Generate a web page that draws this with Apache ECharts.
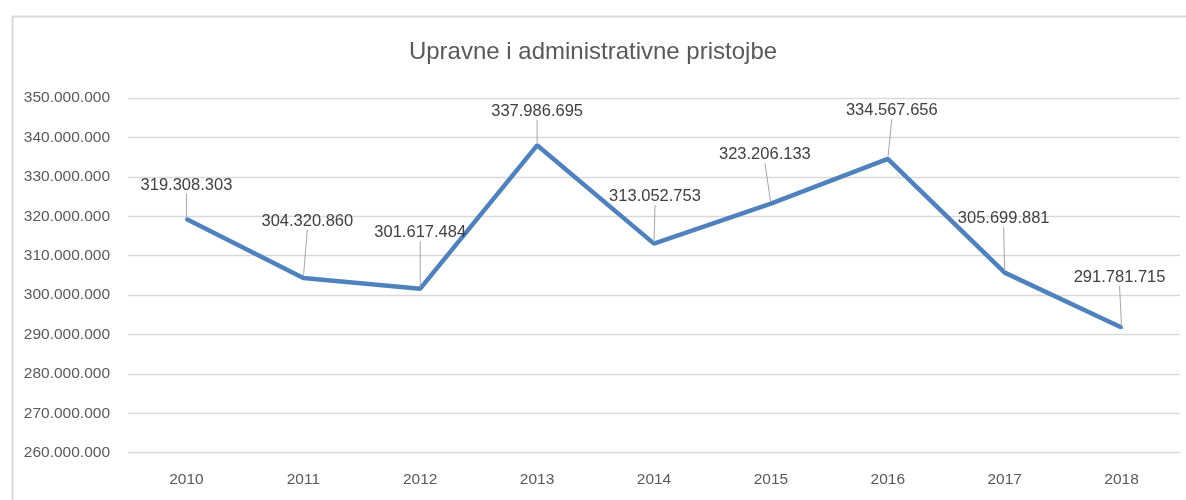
<!DOCTYPE html>
<html>
<head>
<meta charset="utf-8">
<script src="https://cdn.jsdelivr.net/npm/echarts@6/dist/echarts.min.js"></script>
<style>
html,body{margin:0;padding:0;background:#fff;}
#chart{width:1186px;height:500px;}
</style>
</head>
<body>
<div id="chart"></div>
<script>
var titleText = 'Upravne i administrativne pristojbe';
var years = ['2010','2011','2012','2013','2014','2015','2016','2017','2018'];
var values = [319308303, 304320860, 301617484, 337986695, 313052753, 323206133, 334567656, 305699881, 291781715];
var yMin = 260000000, yMax = 350000000, yStep = 10000000;
// label offsets (pixels) relative to each point
var labelDx = [0, 4, 0, 0, 1, -6, 4, -1, -2];
var labelDy = [-34, -57, -56, -34, -47, -49, -48, -54, -50];

function fmt(v){ return String(v).replace(/\B(?=(\d{3})+(?!\d))/g, '.'); }

var chart = echarts.init(document.getElementById('chart'), null, {renderer:'canvas'});
chart.setOption({
  backgroundColor:'#fff',
  animation:false,
  title:{
    text:titleText, left:'center', top:35,
    textStyle:{fontFamily:'Liberation Sans', fontSize:24, fontWeight:'normal', color:'#595959'}
  },
  graphic:[{
    type:'rect', left:10, top:14, silent:true,
    shape:{width:1200, height:520},
    style:{fill:'none', stroke:'#d9d9d9', lineWidth:2}
  }],
  grid:{left:128, right:6, top:98, bottom:47.3, containLabel:false},
  xAxis:{
    type:'category', data:years, boundaryGap:true,
    axisLine:{show:false}, axisTick:{show:false},
    axisLabel:{margin:19, color:'#595959', fontFamily:'Liberation Sans', fontSize:15.5}
  },
  yAxis:{
    type:'value', min:yMin, max:yMax, interval:yStep,
    axisLine:{show:false}, axisTick:{show:false},
    splitLine:{lineStyle:{color:'#d9d9d9', width:1.3}},
    axisLabel:{margin:18, color:'#595959', fontFamily:'Liberation Sans', fontSize:15.5, formatter:function(v){return fmt(v);}}
  },
  series:[{
    type:'line', data:values,
    symbol:'circle', symbolSize:3, showSymbol:true,
    itemStyle:{color:'#4f81bd'},
    lineStyle:{color:'#4f81bd', width:4.5},
    label:{
      show:true, position:'inside', color:'#404040',
      fontFamily:'Liberation Sans', fontSize:16.5,
      formatter:function(p){return fmt(p.value);}
    },
    labelLine:{show:true, length2:0, lineStyle:{color:'#a6a6a6', width:1}},
    labelLayout:function(p){ return {dx:labelDx[p.dataIndex], dy:labelDy[p.dataIndex]}; }
  }]
});
</script>
</body>
</html>
